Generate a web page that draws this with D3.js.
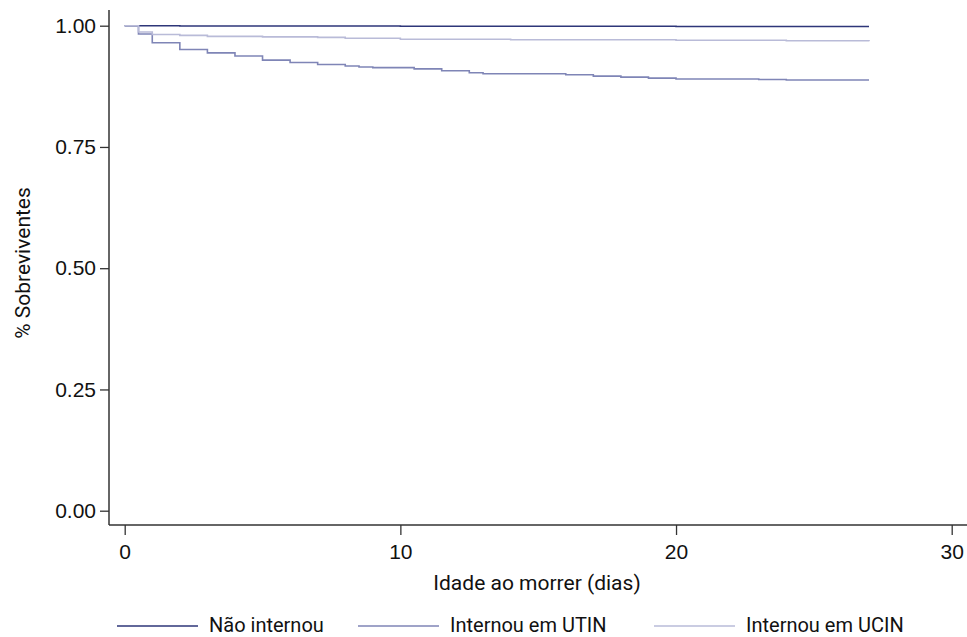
<!DOCTYPE html>
<html>
<head>
<meta charset="utf-8">
<script src="https://cdn.jsdelivr.net/npm/d3@7"></script>
<style>
  html, body { margin: 0; padding: 0; background: #fff; }
  svg { display: block; font-family: Roboto, "Noto Sans", sans-serif; }
  .axis text { font-size: 21px; fill: #111; }
  .axis line { stroke: #333; stroke-width: 1.3; }
  .axis path { display: none; }
</style>
</head>
<body>
<div id="chart"></div>
<script>
/* ── DATA ── */
const xTicks = [0, 10, 20, 30];
const yTicks = [0, 0.25, 0.5, 0.75, 1];
const seriesNames  = ['Não internou', 'Internou em UTIN', 'Internou em UCIN'];
const seriesColors = ['#2e3679', '#7f85b6', '#b9bbd8'];

// Kaplan-Meier estimates (day, survival)
const naoDays  = [0, 2, 10, 20, 27];
const naoSurv  = [1.0, 0.9995, 0.999, 0.9985, 0.9985];

const utinDays = [0, 0.5, 1, 2, 3, 4, 5, 6, 7, 8, 8.5, 9, 10.5, 11.5, 12.5, 13, 16, 17, 18, 19, 20, 23, 24, 27];
const utinSurv = [1.0, 0.983, 0.965, 0.951, 0.944, 0.9375, 0.929, 0.924, 0.920, 0.917, 0.915, 0.9135, 0.911, 0.907, 0.903, 0.901, 0.899, 0.896, 0.894, 0.892, 0.890, 0.889, 0.888, 0.888];

const ucinDays = [0, 0.5, 1, 2, 3, 5, 7, 8, 10, 14, 20, 24, 27];
const ucinSurv = [1.0, 0.987, 0.982, 0.980, 0.978, 0.977, 0.976, 0.974, 0.972, 0.971, 0.970, 0.969, 0.968];

const seriesDays = [naoDays, utinDays, ucinDays];
const seriesSurv = [naoSurv, utinSurv, ucinSurv];

/* ── LAYOUT ── */
const W = 967, H = 637;
const plot = { left: 109, right: 967, top: 10, bottom: 525 };

const x = d3.scaleLinear().domain([0, 30]).range([124.7, 951.7]);
const y = d3.scaleLinear().domain([0, 1]).range([510.7, 25.7]);

const svg = d3.select('#chart').append('svg')
  .attr('width', W).attr('height', H);

/* ── AXES ── */
svg.append('line')
  .attr('x1', plot.left).attr('x2', plot.left)
  .attr('y1', plot.top).attr('y2', plot.bottom)
  .attr('stroke', '#333').attr('stroke-width', 1.5);
svg.append('line')
  .attr('x1', plot.left).attr('x2', plot.right)
  .attr('y1', plot.bottom).attr('y2', plot.bottom)
  .attr('stroke', '#333').attr('stroke-width', 1.5);

svg.append('g').attr('class', 'axis')
  .attr('transform', `translate(${plot.left},0)`)
  .call(d3.axisLeft(y).tickValues(yTicks).tickSize(9).tickPadding(4)
    .tickFormat(d3.format('.2f')));

svg.append('g').attr('class', 'axis')
  .attr('transform', `translate(0,${plot.bottom})`)
  .call(d3.axisBottom(x).tickValues(xTicks).tickSize(10).tickPadding(9));

svg.append('text')
  .attr('x', 537).attr('y', 583)
  .attr('text-anchor', 'middle').attr('dominant-baseline', 'central')
  .attr('font-size', 21).attr('fill', '#111')
  .text('Idade ao morrer (dias)');

svg.append('text')
  .attr('transform', 'translate(23,263) rotate(-90)')
  .attr('text-anchor', 'middle').attr('dominant-baseline', 'central')
  .attr('font-size', 21).attr('fill', '#111')
  .text('% Sobreviventes');

/* ── CURVES ── */
const line = d3.line()
  .x(d => x(d[0])).y(d => y(d[1]))
  .curve(d3.curveStepAfter);

seriesNames.forEach((name, i) => {
  const pts = seriesDays[i].map((d, j) => [d, seriesSurv[i][j]]);
  svg.append('path').datum(pts)
    .attr('d', line)
    .attr('fill', 'none')
    .attr('stroke', seriesColors[i])
    .attr('stroke-width', 1.6);
});

/* ── LEGEND ── */
const legendX = [117, 358, 654];
const legend = svg.append('g').attr('transform', 'translate(0,626)');
seriesNames.forEach((name, i) => {
  const g = legend.append('g').attr('transform', `translate(${legendX[i]},0)`);
  g.append('line').attr('x1', 0).attr('x2', 81).attr('y1', 0).attr('y2', 0)
    .attr('stroke', seriesColors[i]).attr('stroke-width', 1.3);
  g.append('text').attr('x', 92).attr('y', 6)
    .attr('font-size', 20).attr('fill', '#111')
    .text(name);
});
</script>
</body>
</html>
